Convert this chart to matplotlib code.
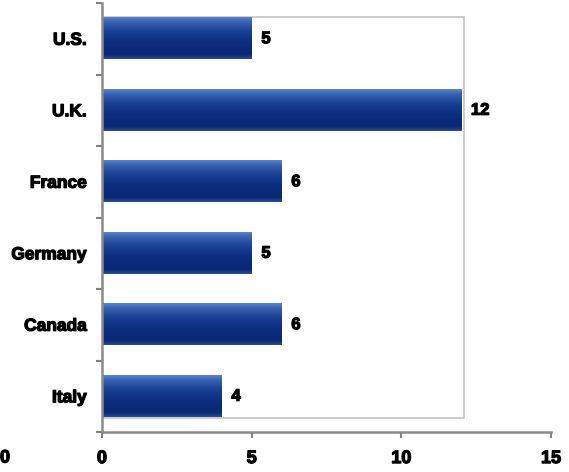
import matplotlib.pyplot as plt
import matplotlib.patheffects as pe
import numpy as np
from matplotlib.colors import LinearSegmentedColormap
from matplotlib.patches import Rectangle

countries = ["U.S.", "U.K.", "France", "Germany", "Canada", "Italy"]
values = [5, 12, 6, 5, 6, 4]
x_ticks = [0, 5, 10, 15]

plt.rcParams["font.family"] = ["Liberation Sans", "DejaVu Sans"]
plt.rcParams["font.weight"] = "bold"

# heavy black lettering
heavy = [pe.withStroke(linewidth=0.9, foreground="black")]

# vertical shading of each bar: light rim on top, navy body, softer base edge
bar_cmap = LinearSegmentedColormap.from_list(
    "bar",
    [
        (0.00, "#5a82cc"),
        (0.12, "#3760b0"),
        (0.35, "#173f92"),
        (0.60, "#0d2d80"),
        (0.90, "#0a2874"),
        (1.00, "#2b4c95"),
    ],
)
gradient = np.linspace(0, 1, 64).reshape(-1, 1)

fig = plt.figure(figsize=(5.69, 4.72), dpi=100)
ax = fig.add_axes([102 / 569, 40 / 472, 449 / 569, 429 / 472])

pos = np.arange(len(countries))
bar_h = 0.58

# light plot-area frame behind the bars
ax.add_patch(
    Rectangle(
        (0, 0.033), 362 / 449, 0.934,
        transform=ax.transAxes, facecolor="white",
        edgecolor="#c4c4c4", lw=1.2, zorder=0,
    )
)

for p, v in zip(pos, values):
    ax.imshow(
        gradient, cmap=bar_cmap, aspect="auto",
        extent=(0, v, p + bar_h / 2, p - bar_h / 2),
        interpolation="bicubic", zorder=2,
    )
    ax.annotate(
        str(v), (v, p), xytext=(7, 0), textcoords="offset points",
        ha="left", va="center", fontsize=12, fontweight="bold",
        color="black", path_effects=heavy,
    )

ax.set_xlim(0, 15)
ax.set_ylim(len(countries) - 0.5, -0.5)
ax.set_facecolor("none")

ax.set_xticks(x_ticks)
ax.set_xticklabels([str(t) for t in x_ticks], fontsize=13, fontweight="bold")
ax.tick_params(axis="x", length=4, width=1.5, color="#808080", pad=9)

# category boundaries carry the tick marks, names sit on the bar centres
ax.set_yticks(np.arange(-0.5, len(countries)), labels=[])
ax.set_yticks(pos, labels=countries, minor=True)
ax.tick_params(axis="y", which="major", length=4, width=1.5, color="#808080")
ax.tick_params(axis="y", which="minor", length=0, pad=11, labelsize=12.5)

for lbl in ax.get_xticklabels() + ax.get_yticklabels(minor=True):
    lbl.set_path_effects(heavy)

for side in ("top", "right"):
    ax.spines[side].set_visible(False)
for side in ("left", "bottom"):
    ax.spines[side].set_color("#8a8a8a")
    ax.spines[side].set_linewidth(1.8)

fig.text(0.0, 1 - 458 / 472, "0", ha="left", va="center",
         fontsize=13, fontweight="bold", path_effects=heavy)

fig.savefig("out.png", dpi=100)
